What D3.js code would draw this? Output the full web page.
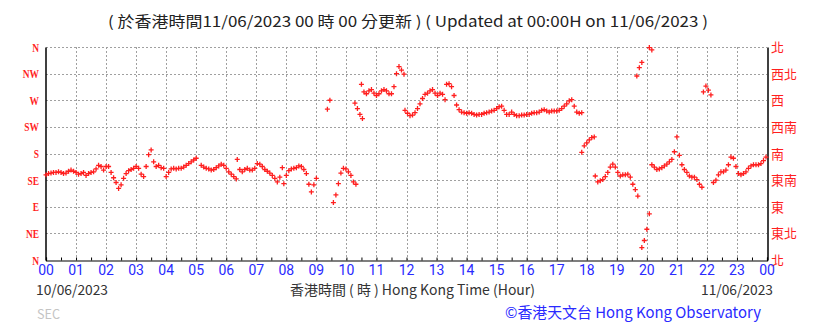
<!DOCTYPE html>
<html><head><meta charset="utf-8">
<script src="https://cdn.jsdelivr.net/npm/d3@7"></script>
<style>
html,body{margin:0;padding:0;background:#fff;}
svg{display:block;}
</style></head>
<body>
<svg id="chart" width="819" height="323"></svg>
<script>
// ---- data ----
const titleText = "( 於香港時間11/06/2023 00 時 00 分更新 ) ( Updated at 00:00H on 11/06/2023 )";
const hourLabels = ["00","01","02","03","04","05","06","07","08","09","10","11","12","13","14","15","16","17","18","19","20","21","22","23","00"];
const dirTicks = [0,45,90,135,180,225,270,315,360];
const dirLabelsEn = ["N","NE","E","SE","S","SW","W","NW","N"];
const dirLabelsZh = ["北","東北","東","東南","南","西南","西","西北","北"];
const stepMinutes = 5;
// wind direction (degrees) segments, one value every 5 minutes from the start time
const segmentStart = ["00:00","05:10","06:22","07:55","09:22","09:34","10:17","10:30","11:57","13:20","17:50","18:17","19:40","20:05","19:50","20:10","21:53","22:13"];
const segmentValues = [
  [144,146,147,148,148,149,148,146,147,150,152,150,
   148,145,146,148,143,146,148,149,154,160,158,152,
   158,158,148,139,131,121,127,138,146,151,153,155,
   158,155,145,141,158,178,186,166,158,160,156,155,
   141,148,154,155,154,155,155,157,160,163,166,169,172],
  [160,157,155,154,152,153,156,159,162,160,155,149,145,141,137],
  [170,153,149,153,155,152,152,155,163,162,158,153,150,147,143,138,132,140,156],
  [129,143,151,154,155,156,159,158,153,146,128,115,127,138],
  [255,270],
  [97,110,129,147,155,154,149,143,132,128],
  [265,256,246,239],
  [297,284,281,286,288,282,278,281,286,288,286,281,281,293,315,327,321,314],
  [253,248,244,245,249,256,264,273,280,282,286,288,282,278,282,280,271],
  [297,298,293,278,262,254,250,249,248,249,248,246,245,246,246,248,249,250,252,253,256,259,260,253,
   246,246,250,246,244,244,245,245,246,246,248,249,249,250,253,254,252,250,252,252,252,253,256,260,
   264,269,271,260,250,248,249],
  [182,193,198,203,207,208],
  [142,132,134,136,141,148,157,162,157,148,142,144,144,145,140,128,119,108],
  [311,325,334],
  [359,355],
  [21,33,52,78],
  [161,157,153,154,156,159,162,166,170,183,208,177,161,153,148,142,140,140,136,128,123],
  [284,294,287,279],
  [131,135,144,149,149,152,161,174,172,158,146,144,146,149,155,159,161,161,161,163,168,174]
];

// ---- build points ----
const points = [];
segmentStart.forEach((s, i) => {
  const [h, m] = s.split(":").map(Number);
  const t0 = h + m / 60;
  segmentValues[i].forEach((v, j) => points.push({t: t0 + j * stepMinutes / 60, d: v}));
});

const svg = d3.select("#chart");
const L = 46, R = 767, T = 47, B = 260;
const x = d3.scaleLinear().domain([0, 24]).range([L, R]);
const y = d3.scaleLinear().domain([0, 360]).range([B, T]);
const red = "#ff1f1f", blue = "#2a2aff";

// grid
const grid = svg.append("g").attr("stroke", "#a0a0a0").attr("stroke-dasharray", "2,2").attr("shape-rendering", "crispEdges");
grid.selectAll("line.h").data(dirTicks.slice(1)).join("line")
  .attr("x1", L).attr("x2", R).attr("y1", d => Math.round(y(d)) + 0.5).attr("y2", d => Math.round(y(d)) + 0.5);
grid.selectAll("line.v").data(d3.range(1, 24)).join("line")
  .attr("y1", T).attr("y2", B).attr("x1", d => Math.round(x(d)) + 0.5).attr("x2", d => Math.round(x(d)) + 0.5);

// axes
const xAxis = d3.axisBottom(x).tickValues(d3.range(0, 24.01, 0.5)).tickSize(-3).tickFormat("");
const gx = svg.append("g").attr("transform", `translate(0,${B + 0.5})`).call(xAxis);
gx.select(".domain").attr("stroke", "#000").attr("stroke-width", 1.2);
gx.selectAll(".tick line").attr("stroke", "#000");
const gl = svg.append("g").attr("transform", `translate(${L - 0.5},0)`).call(d3.axisLeft(y).tickValues([]).tickSizeOuter(0));
gl.select(".domain").attr("stroke", "#000").attr("stroke-width", 1.5);
const gr = svg.append("g").attr("transform", `translate(${R + 0.5},0)`).call(d3.axisRight(y).tickValues([]).tickSizeOuter(0));
gr.select(".domain").attr("stroke", "#000").attr("stroke-width", 1.5);

// left direction labels
svg.append("g").selectAll("text").data(dirTicks).join("text")
  .attr("transform", (d) => `translate(39,${y(d) + 4.5}) scale(0.7,1)`)
  .attr("text-anchor", "end")
  .attr("font-family", "'Liberation Serif', serif").attr("font-weight", "bold").attr("font-size", 13.5)
  .attr("fill", red).text((d, i) => dirLabelsEn[i]);

// right direction labels
svg.append("g").selectAll("text").data(dirTicks).join("text")
  .attr("x", 771).attr("y", d => y(d) + 5)
  .attr("font-family", "'Noto Sans CJK TC', sans-serif").attr("font-size", 13)
  .attr("fill", red).text((d, i) => dirLabelsZh[i]);

// hour labels
svg.append("g").selectAll("text").data(hourLabels).join("text")
  .attr("x", (d, i) => x(i)).attr("y", 275)
  .attr("text-anchor", "middle")
  .attr("font-family", "Roboto, sans-serif").attr("font-size", 14)
  .attr("fill", blue).text(d => d);

// data markers (+)
svg.append("g").selectAll("path").data(points).join("path")
  .attr("transform", d => `translate(${x(d.t)},${y(d.d)})`)
  .attr("d", d3.symbol().type({draw(ctx){ctx.moveTo(-2.5,0);ctx.lineTo(2.5,0);ctx.moveTo(0,-2.5);ctx.lineTo(0,2.5);}}))
  .attr("stroke", red).attr("stroke-width", 1.3).attr("fill", "none");

// texts
const sansFam = "'Noto Sans CJK TC', 'Noto Sans', sans-serif";
svg.append("text").attr("x", 108).attr("y", 27).attr("textLength", 600).attr("lengthAdjust", "spacingAndGlyphs")
  .attr("font-family", sansFam).attr("font-size", 15).attr("fill", "#222").text(titleText);
svg.append("text").attr("x", 36).attr("y", 295).attr("textLength", 72).attr("lengthAdjust", "spacingAndGlyphs")
  .attr("font-family", sansFam).attr("font-size", 14).attr("fill", "#333").text("10/06/2023");
svg.append("text").attr("x", 701).attr("y", 295).attr("textLength", 72).attr("lengthAdjust", "spacingAndGlyphs")
  .attr("font-family", sansFam).attr("font-size", 14).attr("fill", "#333").text("11/06/2023");
svg.append("text").attr("x", 290).attr("y", 295).attr("textLength", 245).attr("lengthAdjust", "spacingAndGlyphs")
  .attr("font-family", sansFam).attr("font-size", 14).attr("fill", "#333").text("香港時間 ( 時 ) Hong Kong Time (Hour)");
svg.append("text").attr("x", 505).attr("y", 318).attr("textLength", 256).attr("lengthAdjust", "spacingAndGlyphs")
  .attr("font-family", sansFam).attr("font-size", 15).attr("fill", blue).text("©香港天文台 Hong Kong Observatory");
svg.append("text").attr("x", 37).attr("y", 319).attr("textLength", 23).attr("lengthAdjust", "spacingAndGlyphs")
  .attr("font-family", sansFam).attr("font-size", 13).attr("fill", "#c4c4c4").text("SEC");
</script>
</body></html>
